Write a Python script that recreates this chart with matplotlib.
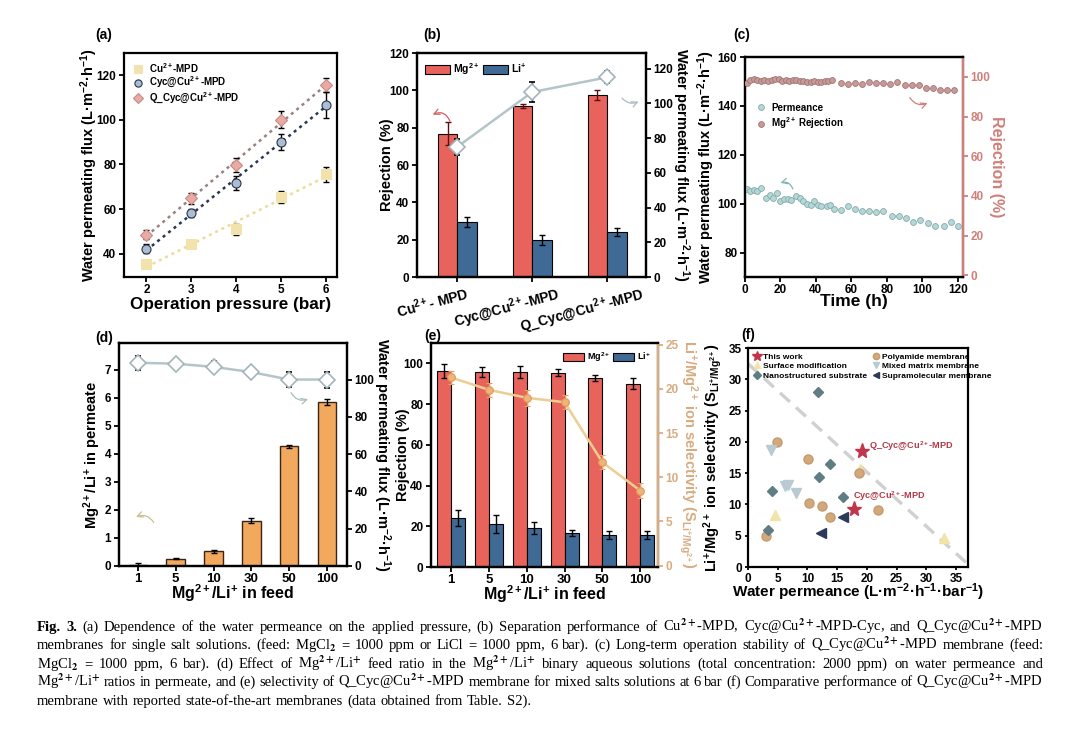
import numpy as np
import matplotlib
matplotlib.use('Agg')
import matplotlib.pyplot as plt
from matplotlib.lines import Line2D
from matplotlib.transforms import ScaledTranslation

plt.rcParams['font.family'] = ['Liberation Sans', 'DejaVu Sans']
plt.rcParams['font.weight'] = 'bold'
plt.rcParams['axes.labelweight'] = 'bold'
plt.rcParams['mathtext.fontset'] = 'custom'
plt.rcParams['mathtext.rm'] = 'Liberation Sans:bold'
plt.rcParams['mathtext.it'] = 'Liberation Sans:bold:italic'
plt.rcParams['mathtext.bf'] = 'Liberation Sans:bold'
plt.rcParams['axes.linewidth'] = 1.6
plt.rcParams['xtick.major.width'] = 1.3
plt.rcParams['ytick.major.width'] = 1.3
plt.rcParams['xtick.major.size'] = 3.5
plt.rcParams['ytick.major.size'] = 3.5
plt.rcParams['xtick.major.pad'] = 1.5
plt.rcParams['ytick.major.pad'] = 2.0
plt.rcParams['xtick.labelsize'] = 8.5
plt.rcParams['ytick.labelsize'] = 8.5
plt.rcParams['axes.labelsize'] = 10.5

# ---------------- data ----------------
# (a)
pressure = [2, 3, 4, 5, 6]
flux_cu = [35.3, 44.3, 51.0, 65.3, 75.5]
err_cu = [1.3, 1.5, 2.5, 2.8, 3.3]
flux_cyc = [42.2, 58.0, 71.7, 90.0, 106.8]
err_cyc = [2.0, 1.8, 3.0, 3.5, 5.8]
flux_q = [48.5, 64.8, 79.8, 100.0, 115.5]
err_q = [2.0, 2.5, 3.2, 3.8, 3.2]

# (b)
memb_labels = ['Cu$^{2+}$- MPD', 'Cyc@Cu$^{2+}$-MPD', 'Q_Cyc@Cu$^{2+}$-MPD']
rej_mg_b = [76.8, 91.6, 97.5]
err_mg_b = [6.0, 1.3, 2.6]
rej_li_b = [29.5, 20.0, 24.1]
err_li_b = [2.7, 2.7, 2.0]
flux_b = [75.0, 106.5, 115.0]
err_flux_b = [4.6, 6.0, 3.4]

# (c)
time_perm = [1, 3, 5, 7, 9, 12, 14, 16, 18, 20, 22, 24, 26, 29, 31, 33, 35, 37, 39, 41,
             43, 46, 48, 50, 54, 58, 62, 66, 70, 74, 78, 83, 87, 91, 95, 99, 103, 107,
             112, 116, 120]
perm_c = [106.0, 105.0, 105.5, 105.0, 106.5, 102.5, 103.5, 102.5, 104.5, 101.0, 102.0,
          102.0, 101.5, 103.0, 102.5, 101.0, 100.0, 99.5, 101.0, 99.5, 99.0, 99.0, 99.5,
          98.0, 97.5, 99.0, 98.0, 97.0, 97.0, 96.5, 97.0, 95.0, 95.0, 94.0, 92.5, 93.5,
          92.0, 91.0, 91.0, 92.5, 91.0]
time_rej = [1, 3, 5, 7, 9, 11, 13, 15, 17, 19, 21, 23, 25, 27, 29, 31, 33, 35, 37, 39,
            41, 43, 45, 47, 49, 54, 58, 62, 66, 70, 74, 78, 82, 86, 90, 94, 98, 102, 106,
            110, 114, 118]
rej_c = [96.8, 98.3, 98.8, 98.3, 97.8, 98.6, 97.9, 98.3, 98.8, 99.0, 97.8, 98.3, 97.8,
         98.3, 98.4, 97.9, 98.0, 97.6, 97.5, 97.9, 97.6, 97.2, 97.8, 98.0, 98.2,
         97.0, 96.3, 96.7, 96.2, 97.3, 97.0, 97.0, 96.5, 97.3, 95.7, 95.8, 95.8, 94.5,
         94.5, 93.3, 93.2, 93.5]

# (d)
feed_ratio = ['1', '5', '10', '30', '50', '100']
perm_ratio = [0.03, 0.26, 0.52, 1.62, 4.27, 5.84]
err_perm_ratio = [0.08, 0.02, 0.06, 0.08, 0.05, 0.10]
flux_d = [109.0, 108.5, 106.8, 104.0, 100.0, 100.0]
err_flux_d = [3.8, 2.2, 2.9, 2.5, 4.1, 4.3]

# (e)
rej_mg_e = [96.4, 95.9, 95.6, 95.5, 92.8, 90.1]
err_mg_e = [3.5, 2.5, 3.0, 1.5, 1.5, 2.5]
rej_li_e = [24.0, 21.0, 19.2, 16.5, 15.7, 15.7]
err_li_e = [3.8, 4.3, 3.0, 1.5, 1.8, 1.8]
sel_e = [21.3, 19.9, 19.0, 18.5, 11.7, 8.5]
err_sel_e = [0.7, 0.8, 0.9, 0.8, 0.8, 0.8]

# (f)
this_x = [19.2, 17.8]
this_y = [18.5, 9.3]
poly_x = [4.9, 10.1, 10.2, 12.4, 13.8, 18.6, 21.9, 3.0]
poly_y = [20.0, 17.2, 10.2, 9.8, 8.0, 15.0, 9.1, 5.0]
surf_x = [4.6, 18.9, 33.0]
surf_y = [8.3, 15.7, 4.7]
nano_x = [11.8, 13.8, 11.9, 4.0, 16.0, 3.4]
nano_y = [27.9, 16.5, 14.4, 12.2, 11.2, 5.9]
mixed_x = [3.8, 6.3, 6.8, 8.0]
mixed_y = [18.7, 13.0, 13.1, 11.9]
supra_x = [16.0, 12.2]
supra_y = [8.0, 5.5]
trend_x = [0, 37.5]
trend_y = [32.5, 0]

caption_lines = [
    "Fig. 3. (a) Dependence of the water permeance on the applied pressure, (b) Separation performance of Cu$^{2+}$-MPD, Cyc@Cu$^{2+}$-MPD-Cyc, and Q_Cyc@Cu$^{2+}$-MPD",
    "membranes for single salt solutions. (feed: MgCl$_{2}$ = 1000 ppm or LiCl = 1000 ppm, 6 bar). (c) Long-term operation stability of Q_Cyc@Cu$^{2+}$-MPD membrane (feed:",
    "MgCl$_{2}$ = 1000 ppm, 6 bar). (d) Effect of Mg$^{2+}$/Li$^{+}$ feed ratio in the Mg$^{2+}$/Li$^{+}$ binary aqueous solutions (total concentration: 2000 ppm) on water permeance and",
    "Mg$^{2+}$/Li$^{+}$ ratios in permeate, and (e) selectivity of Q_Cyc@Cu$^{2+}$-MPD membrane for mixed salts solutions at 6 bar (f) Comparative performance of Q_Cyc@Cu$^{2+}$-MPD",
    "membrane with reported state-of-the-art membranes (data obtained from Table. S2).",
]

# ---------------- figure ----------------
W, H = 1080, 732
fig = plt.figure(figsize=(W / 100, H / 100), dpi=100)


def box(l, t, r, b):
    return [l / W, 1 - b / H, (r - l) / W, (b - t) / H]


def plabel(x, y, s):
    fig.text(x / W, 1 - y / H, s, fontsize=10, weight='bold', ha='center', va='center')


def curl(ax, xy, xytext, color, rad):
    ax.annotate('', xy=xy, xytext=xytext,
                arrowprops=dict(arrowstyle='->', color=color, lw=0.9,
                                connectionstyle='arc3,rad=%s' % rad, shrinkA=0, shrinkB=0))


def ylab(ax, rect, text, cx, fs=10.5, right=False, **kw):
    l, t, r, b = rect
    ax.set_ylabel(text, fontsize=fs, rotation=270 if right else 90, **kw)
    off = 0.57 * fs * 100 / 72
    ax.yaxis.set_label_coords((cx + off - l) / (r - l), 0.5)


def xlab(ax, rect, text, cy, fs=10.5, **kw):
    l, t, r, b = rect
    ax.set_xlabel(text, fontsize=fs, **kw)
    off = 0.6 * fs * 100 / 72
    ax.xaxis.set_label_coords(0.5, -(cy - off - b) / (b - t))


flux_lbl = 'Water permeating flux (L·m$^{-2}$·h$^{-1}$)'
sel_lbl = 'Li$^{+}$/Mg$^{2+}$ ion selectivity (S$_{\\mathrm{Li^{+}/Mg^{2+}}}$)'

# ----- (a) -----
ra = (124, 53, 337, 277)
ax = fig.add_axes(box(*ra))
specs = [(flux_cu, err_cu, 's', '#f2e2ad', '#f2e2ad', '#ecdc98', 'Cu$^{2+}$-MPD'),
         (flux_cyc, err_cyc, 'o', '#a9bed4', '#2c3545', '#283650', 'Cyc@Cu$^{2+}$-MPD'),
         (flux_q, err_q, 'D', '#e9aaa4', '#c48a86', '#9c7f80', 'Q_Cyc@Cu$^{2+}$-MPD')]
for ys, es, mk, fc, ec, lc, lab in specs:
    k, b0 = np.polyfit(pressure, ys, 1)
    xx = np.array([pressure[0], pressure[-1]])
    ax.plot(xx, k * xx + b0, ls=(0, (1.2, 1.6)), color=lc, lw=1.8, zorder=1)
    ax.errorbar(pressure, ys, yerr=es, fmt='none', ecolor='black', elinewidth=1.0,
                capsize=2, capthick=1.0, zorder=2)
    ax.plot(pressure, ys, ls='none', marker=mk, ms=6.5 if mk != 'D' else 6,
            mfc=fc, mec=ec, mew=0.8, label=lab, zorder=3)
ax.set_xlim(1.5, 6.25)
ax.set_ylim(29.5, 130)
ax.set_xticks(pressure)
ax.set_yticks([40, 60, 80, 100, 120])
xlab(ax, ra, 'Operation pressure (bar)', 307, fs=12.3)
ylab(ax, ra, flux_lbl, 92)
ax.legend(loc='upper left', frameon=False, fontsize=7, handletextpad=0.6,
          borderaxespad=0.4, labelspacing=0.05, handlelength=1.2, markerscale=0.8)
plabel(104, 35, '(a)')

# ----- (b) -----
rb = (417, 53, 646, 277)
ax = fig.add_axes(box(*rb))
xb = np.arange(len(memb_labels))
bw = 0.26
ax.bar(xb - bw / 2, rej_mg_b, bw, color='#e8635b', edgecolor='black', lw=0.8, label='Mg$^{2+}$')
ax.bar(xb + bw / 2, rej_li_b, bw, color='#3f6a96', edgecolor='black', lw=0.8, label='Li$^{+}$')
ax.errorbar(xb - bw / 2, rej_mg_b, yerr=err_mg_b, fmt='none', ecolor='#5a1010', elinewidth=1,
            capsize=2.5, capthick=1)
ax.errorbar(xb + bw / 2, rej_li_b, yerr=err_li_b, fmt='none', ecolor='black', elinewidth=1,
            capsize=2.5, capthick=1)
ax.set_xlim(-0.54, 2.52)
ax.set_ylim(0, 120)
ax.set_yticks(range(0, 121, 20))
ax.set_xticks(xb)
ax.set_xticklabels(memb_labels, rotation=15, ha='center', fontsize=10)
for lab in ax.get_xticklabels():
    lab.set_transform(lab.get_transform() + ScaledTranslation(-0.25, 0, fig.dpi_scale_trans))
ylab(ax, rb, 'Rejection (%)', 386)
ax.legend(loc='upper left', ncol=2, frameon=False, fontsize=7.5, handlelength=2.4,
          handleheight=1.0, columnspacing=0.3, handletextpad=0.3, borderaxespad=0.4)
curl(ax, (-0.33, 87), (-0.1, 83.5), '#d06060', 0.5)
axr = ax.twinx()
axr.errorbar(xb, flux_b, yerr=err_flux_b, color='#b3c5c9', lw=1.8, ecolor='black',
             elinewidth=1, capsize=2.5, capthick=1, marker='D', ms=8, mfc='white',
             mec='#a4b4ba', mew=1.2, zorder=5)
axr.set_ylim(0, 129)
axr.set_yticks(range(0, 121, 20))
ylab(axr, rb, flux_lbl, 683, right=True)
curl(axr, (2.42, 101), (2.2, 103), '#a9bcc2', 0.35)
plabel(432, 35, '(b)')

# ----- (c) -----
rcx = (745, 57, 963, 277)
ax = fig.add_axes(box(*rcx))
ax.plot(time_perm, perm_c, ls='none', marker='o', ms=4.2, mfc='#b2d8d8', mec='#8aa8a8',
        mew=0.6, label='Permeance', zorder=3)
ax.set_xlim(0, 123)
ax.set_ylim(70, 160)
ax.set_yticks([80, 100, 120, 140, 160])
ax.set_xticks([0, 20, 40, 60, 80, 100, 120])
xlab(ax, rcx, 'Time (h)', 304, fs=12.5)
ylab(ax, rcx, flux_lbl, 709)
curl(ax, (20, 108.5), (27, 106), '#7fb5b5', 0.45)
rc = '#d07f7a'
axr = ax.twinx()
axr.plot(time_rej, rej_c, ls='none', marker='o', ms=4.2, mfc='#c79a98', mec='#a07474',
         mew=0.6, zorder=3)
axr.set_ylim(-0.8, 110)
axr.set_yticks(range(0, 101, 20))
axr.spines['right'].set_color(rc)
axr.tick_params(axis='y', colors=rc)
ylab(axr, rcx, 'Rejection (%)', 995, fs=11.5, right=True, color=rc)
curl(axr, (103, 86.8), (93, 89.5), rc, 0.4)
hs = [Line2D([], [], ls='none', marker='o', ms=4.2, mfc='#b2d8d8', mec='#8aa8a8', mew=0.6),
      Line2D([], [], ls='none', marker='o', ms=4.2, mfc='#c79a98', mec='#a07474', mew=0.6)]
ax.legend(hs, ['Permeance', 'Mg$^{2+}$ Rejection'], loc='upper left',
          bbox_to_anchor=(0.03, 0.81), frameon=False, fontsize=7, handletextpad=0.4,
          labelspacing=0.3, handlelength=1.2, borderaxespad=0)
plabel(742, 35, '(c)')

# ----- (d) -----
rd = (119, 343, 347, 566)
ax = fig.add_axes(box(*rd))
xd = np.arange(len(feed_ratio))
ax.bar(xd, perm_ratio, 0.49, color='#f2a95d', edgecolor='#3a2418', lw=1.0)
ax.errorbar(xd, perm_ratio, yerr=err_perm_ratio, fmt='none', ecolor='black',
            elinewidth=1, capsize=2.5, capthick=1)
ax.set_xlim(-0.5, 5.53)
ax.set_ylim(0, 7.95)
ax.set_yticks(range(0, 8))
ax.set_xticks(xd)
ax.set_xticklabels(feed_ratio, fontsize=9.5)
xlab(ax, rd, 'Mg$^{2+}$/Li$^{+}$ in feed', 592, fs=11.5)
ylab(ax, rd, 'Mg$^{2+}$/Li$^{+}$ in permeate', 95)
curl(ax, (-0.05, 1.75), (0.42, 1.55), '#c8c090', 0.4)
axr = ax.twinx()
axr.errorbar(xd, flux_d, yerr=err_flux_d, color='#b3c5c9', lw=1.8, ecolor='black',
             elinewidth=1, capsize=2.5, capthick=1, marker='D', ms=8, mfc='white',
             mec='#a4b4ba', mew=1.2, zorder=5)
axr.set_ylim(0, 119.6)
axr.set_yticks(range(0, 101, 20))
ylab(axr, rd, flux_lbl, 384, right=True)
curl(axr, (4.5, 89.5), (4.05, 93), '#a9bcc2', 0.4)
plabel(104, 338, '(d)')

# ----- (e) -----
re_ = (431, 343, 658, 567)
ax = fig.add_axes(box(*re_))
xe = np.arange(len(feed_ratio))
bw = 0.37
ax.bar(xe - bw / 2, rej_mg_e, bw, color='#e8635b', edgecolor='black', lw=0.8, label='Mg$^{2+}$')
ax.bar(xe + bw / 2, rej_li_e, bw, color='#3f6a96', edgecolor='black', lw=0.8, label='Li$^{+}$')
ax.errorbar(xe - bw / 2, rej_mg_e, yerr=err_mg_e, fmt='none', ecolor='black', elinewidth=1,
            capsize=2.5, capthick=1)
ax.errorbar(xe + bw / 2, rej_li_e, yerr=err_li_e, fmt='none', ecolor='black', elinewidth=1,
            capsize=2.5, capthick=1)
ax.set_xlim(-0.53, 5.47)
ax.set_ylim(0, 110)
ax.set_yticks(range(0, 101, 20))
ax.set_xticks(xe)
ax.set_xticklabels(feed_ratio, fontsize=9.5)
xlab(ax, re_, 'Mg$^{2+}$/Li$^{+}$ in feed', 593, fs=11.5)
ylab(ax, re_, 'Rejection (%)', 402)
ax.legend(loc='upper right', ncol=2, frameon=False, fontsize=6.5, handlelength=2.4,
          handleheight=1.0, columnspacing=0.3, handletextpad=0.3, borderaxespad=0.4)
sc = '#d9ab80'
axr = ax.twinx()
axr.errorbar(xe, sel_e, yerr=err_sel_e, color='#eccd92', lw=1.8, ecolor='#e8a060',
             elinewidth=1, capsize=2, capthick=1, marker='o', ms=5.5, mfc='#eeb47a',
             mec='#e09a5a', mew=0.8, zorder=5)
axr.set_ylim(-0.15, 25.2)
axr.set_yticks(range(0, 26, 5))
axr.spines['right'].set_color(sc)
axr.tick_params(axis='y', colors=sc)
ylab(axr, re_, sel_lbl, 692, right=True, color=sc)
plabel(433, 336, '(e)')

# ----- (f) -----
rf = (748, 348, 968, 567)
ax = fig.add_axes(box(*rf))
ax.plot(trend_x, trend_y, ls=(0, (4, 2.5)), color='#d0d0d0', lw=2.4, zorder=1)
ax.plot(surf_x, surf_y, ls='none', marker='^', ms=7, mfc='#f2e3a8', mec='#f2e3a8',
        label='Surface modification', zorder=2)
ax.plot(poly_x, poly_y, ls='none', marker='o', ms=6.5, mfc='#d3a97c', mec='#c49a70',
        label='Polyamide membrane', zorder=3)
ax.plot(mixed_x, mixed_y, ls='none', marker='v', ms=7, mfc='#b9cad2', mec='#b9cad2',
        label='Mixed matrix membrane', zorder=3)
ax.plot(nano_x, nano_y, ls='none', marker='D', ms=5.5, mfc='#5e7e84', mec='#5e7e84',
        label='Nanostructured substrate', zorder=3)
ax.plot(supra_x, supra_y, ls='none', marker='<', ms=6.5, mfc='#2b3a58', mec='#2b3a58',
        label='Supramolecular membrane', zorder=3)
ax.plot(this_x, this_y, ls='none', marker='*', ms=11, mfc='#c2344b', mec='#c2344b',
        label='This work', zorder=4)
ax.text(20.4, 19.3, 'Q_Cyc@Cu$^{2+}$-MPD', color='#b23a48', fontsize=6.6, ha='left', va='center')
ax.text(17.6, 11.4, 'Cyc@Cu$^{2+}$-MPD', color='#b23a48', fontsize=6.6, ha='left', va='center')
ax.set_xlim(0, 37)
ax.set_ylim(0, 35)
ax.set_xticks(range(0, 36, 5))
ax.set_yticks(range(0, 36, 5))
ax.tick_params(length=2.5)
xlab(ax, rf, 'Water permeance (L·m$^{-2}$·h$^{-1}$·bar$^{-1}$)', 591, fs=11)
ylab(ax, rf, sel_lbl, 716)
hd, lb = ax.get_legend_handles_labels()
order = ['This work', 'Surface modification', 'Nanostructured substrate',
         'Polyamide membrane', 'Mixed matrix membrane', 'Supramolecular membrane']
hmap = dict(zip(lb, hd))
ax.legend([hmap[o] for o in order], order, loc='upper left', ncol=2, frameon=False,
          fontsize=6, handletextpad=0.2, labelspacing=0.2, columnspacing=0.6,
          handlelength=1.0, borderaxespad=0.2, markerscale=0.7)
plabel(748, 335, '(f)')

# ----- caption -----
fig.canvas.draw()
renderer = fig.canvas.get_renderer()
cap_y = [631, 649, 668, 686, 705]
x0, x1 = 37, 1043
for i, line in enumerate(caption_lines):
    words = line.split(' ')
    texts = []
    for j, w in enumerate(words):
        bold = (i == 0 and j < 2)
        t = fig.text(0, 1 - cap_y[i] / H, w, fontsize=10.5, family='Liberation Serif',
                     weight='bold' if bold else 'normal', math_fontfamily='stix',
                     va='baseline', ha='left')
        texts.append(t)
    widths = [t.get_window_extent(renderer).width for t in texts]
    if i < len(caption_lines) - 1:
        gap = (x1 - x0 - sum(widths)) / (len(words) - 1)
    else:
        gap = 4.2
    x = x0
    for t, wd in zip(texts, widths):
        t.set_x(x / W)
        x += wd + gap

fig.savefig('out.png', dpi=100)
